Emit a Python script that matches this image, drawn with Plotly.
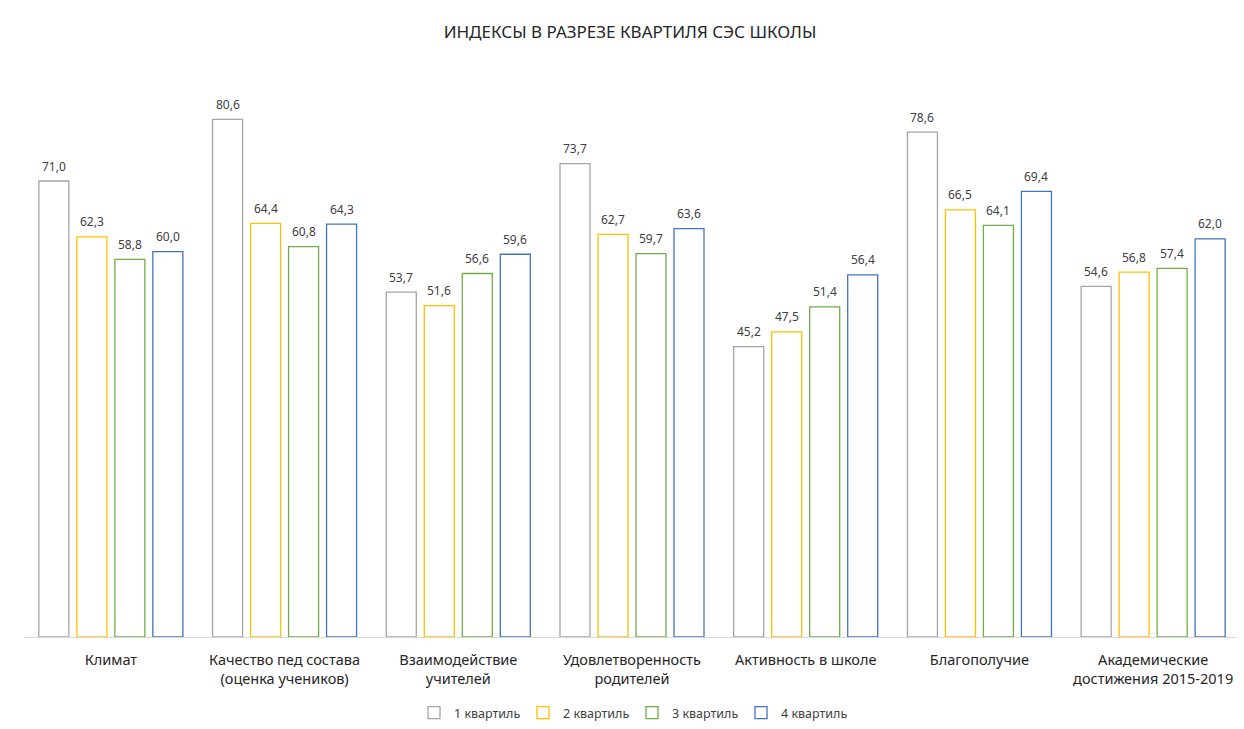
import plotly.graph_objects as go

categories = [
    "Климат",
    "Качество пед состава<br>(оценка учеников)",
    "Взаимодействие<br>учителей",
    "Удовлетворенность<br>родителей",
    "Активность в школе",
    "Благополучие",
    "Академические<br>достижения 2015-2019",
]
series_names = ["1 квартиль", "2 квартиль", "3 квартиль", "4 квартиль"]
q1 = [71.0, 80.6, 53.7, 73.7, 45.2, 78.6, 54.6]
q2 = [62.3, 64.4, 51.6, 62.7, 47.5, 66.5, 56.8]
q3 = [58.8, 60.8, 56.6, 59.7, 51.4, 64.1, 57.4]
q4 = [60.0, 64.3, 59.6, 63.6, 56.4, 69.4, 62.0]
colors = ["#A5A5A5", "#FFC000", "#70AD47", "#4472C4"]

W, H = 1244, 729
ML, MR, MT, MB = 16, 12, 51, 100
BARGAP = 0.125
plot_w = W - ML - MR
cat_w = plot_w / len(categories)
slot = cat_w * (1 - BARGAP) / len(series_names)

fig = go.Figure()
annotations = []
for i, (name, vals, col) in enumerate(zip(series_names, [q1, q2, q3, q4], colors)):
    fig.add_trace(go.Bar(
        x=categories, y=vals, name=name,
        marker=dict(color="white", line=dict(color=col, width=1.3)),
    ))
    xs = (i - (len(series_names) - 1) / 2) * slot
    for c, v in zip(categories, vals):
        annotations.append(dict(
            x=c, y=v, xref="x", yref="y", text=f"{v:.1f}".replace(".", ","),
            showarrow=False, xshift=xs, yshift=15, yanchor="middle",
            font=dict(size=12, color="#404040"),
        ))

fig.update_layout(
    width=W, height=H,
    margin=dict(l=ML, r=MR, t=MT, b=MB, autoexpand=False),
    paper_bgcolor="white", plot_bgcolor="white",
    font=dict(family="Noto Sans", color="#404040"),
    title=dict(text="ИНДЕКСЫ В РАЗРЕЗЕ КВАРТИЛЯ СЭС ШКОЛЫ", x=0.5, xanchor="center",
               y=1 - 24 / H, yanchor="middle", font=dict(size=17, color="#262626")),
    barmode="group", bargap=BARGAP, bargroupgap=0.21,
    showlegend=True,
    legend=dict(orientation="h", x=0.5, xanchor="center", yref="container",
                y=1 - 705 / H, yanchor="middle",
                font=dict(size=12.5, color="#404040"), entrywidth=64),
    xaxis=dict(showline=True, linecolor="#D9D9D9", linewidth=1, ticks="",
               ticklabelstandoff=10, automargin=False,
               tickfont=dict(size=14.5, color="#262626")),
    yaxis=dict(range=[0, 90], visible=False, showgrid=False, automargin=False),
    annotations=annotations,
)

fig.write_html("out.html")
